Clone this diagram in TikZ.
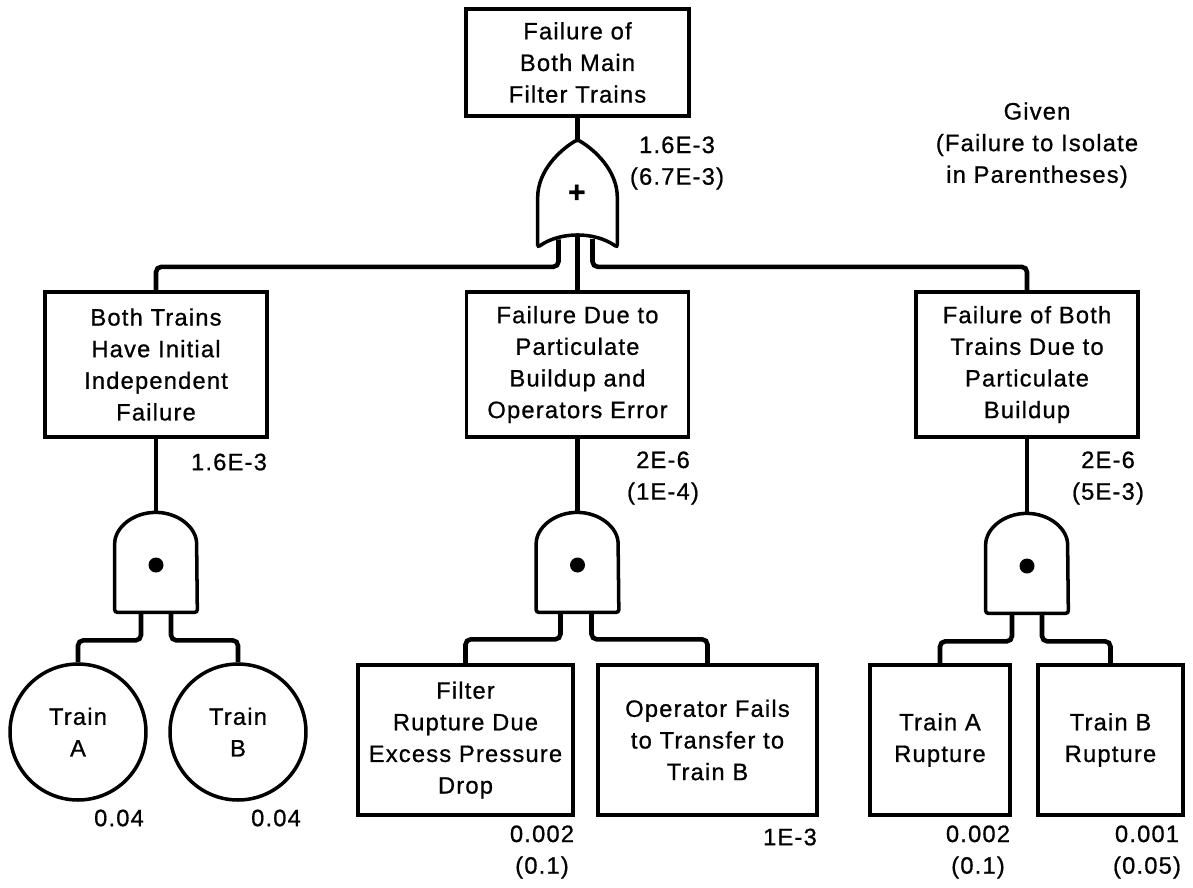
\documentclass[tikz,border=0pt]{standalone}
\usepackage{fontspec}
\setmainfont{Liberation Sans}[LetterSpace=5, FakeBold=0.8]
\usetikzlibrary{positioning}

\begin{document}
\begin{tikzpicture}[
    x=0.02cm, y=-0.02cm,
    font=\fontsize{13.5}{18}\selectfont,
    event/.style={draw, line width=2pt, minimum width=4.44cm, minimum height=2.9cm, align=center, inner sep=2pt},
    basic/.style={draw, circle, line width=2pt, minimum size=2.72cm, align=center, inner sep=0pt},
    gate/.style={minimum width=1.64cm, minimum height=2cm, inner sep=0pt},
    gateline/.style={line width=2pt, rounded corners=1.5pt},
    wire/.style={line width=2.6pt, rounded corners=3pt},
    prob/.style={align=center, inner sep=0pt}
]
    \useasboundingbox (0,0) rectangle (1193,887);

    \node[event, minimum width=4.46cm, minimum height=2.14cm] (top) at (577.5,62.5) {Failure of\\Both Main\\Filter Trains};
    \node[gate, minimum width=1.58cm, minimum height=2.14cm] (org) at (577.5,193.5) {\fontsize{17}{17}\selectfont\textbf{+}};

    \node[event] (b1) at (156,364.5)   {Both Trains\\Have Initial\\Independent\\Failure};
    \node[event] (b2) at (577.5,364.5) {Failure Due to\\Particulate\\Buildup and\\Operators Error};
    \node[event] (b3) at (1027,364.5)  {Failure of Both\\Trains Due to\\Particulate\\Buildup};

    \node[gate] (g1) at (156,562)   {};
    \node[gate] (g2) at (577.5,562) {};
    \node[gate] (g3) at (1027,563)  {};

    \node[basic] (ta) at (78,732)  {Train\\A};
    \node[basic] (tb) at (238,732) {Train\\B};
    \node[event, minimum width=4.3cm, minimum height=3cm]  (f1) at (465.5,740)  {Filter\\Rupture Due\\Excess Pressure\\Drop};
    \node[event, minimum width=4.38cm, minimum height=3cm] (f2) at (707.5,740)  {Operator Fails\\to Transfer to\\Train B};
    \node[event, minimum width=2.8cm, minimum height=3cm]  (r1) at (940,740)    {Train A\\Rupture};
    \node[event, minimum width=2.9cm, minimum height=3cm]  (r2) at (1110.5,740) {Train B\\Rupture};

    \node[prob] (pOr) at (677,163)  {1.6E-3\\(6.7E-3)};
    \node[prob] (pB1) at (229,462)  {1.6E-3};
    \node[prob] (pB2) at (663,478)  {2E-6\\(1E-4)};
    \node[prob] (pB3) at (1108,478) {2E-6\\(5E-3)};
    \node[prob] (pTa) at (119,818)  {0.04};
    \node[prob] (pTb) at (276,818)  {0.04};
    \node[prob] (pF1) at (542,852)  {0.002\\(0.1)};
    \node[prob] (pF2) at (790,837)  {1E-3};
    \node[prob] (pR1) at (978,852)  {0.002\\(0.1)};
    \node[prob] (pR2) at (1147,852) {0.001\\(0.05)};
    \node[prob] (given) at (1037,145) {Given\\(Failure to Isolate\\in Parentheses)};

    % gate outlines
    \draw[gateline] (org.south west) -- ([yshift=0.94cm]org.south west)
        .. controls +(0,0.6cm) and +(-0.34cm,-0.2cm) .. (org.north)
        .. controls +(0.34cm,-0.2cm) and +(0,0.6cm) .. ([yshift=0.94cm]org.south east)
        -- (org.south east) .. controls +(-0.45cm,0.32cm) and +(0.45cm,0.32cm) .. cycle;
    \foreach \g in {g1,g2,g3}{
        \draw[gateline] (\g.south west) -- ([yshift=1.32cm]\g.south west)
            arc[start angle=180, end angle=0, x radius=0.82cm, y radius=0.68cm] -- (\g.south east) -- cycle;
        \fill ([yshift=-0.06cm]\g.center) circle[radius=0.15cm];
    }

    \draw[wire] (top.south) -- (org.north);
    \draw[wire] ([xshift=-0.38cm,yshift=0.16cm]org.south) -- ++(0,-0.55cm) -| (b1.north);
    \draw[wire] ([yshift=0.22cm]org.south) -- (b2.north);
    \draw[wire] ([xshift=0.3cm,yshift=0.17cm]org.south) -- ++(0,-0.56cm) -| (b3.north);

    \draw[wire] (b1.south) -- (g1.north);
    \draw[wire] (b2.south) -- (g2.north);
    \draw[wire] (b3.south) -- (g3.north);

    \draw[wire] ([xshift=-0.3cm]g1.south) -- ++(0,-0.56cm) -| (ta.north);
    \draw[wire] ([xshift=0.3cm]g1.south)  -- ++(0,-0.56cm) -| (tb.north);
    \draw[wire] ([xshift=-0.34cm]g2.south) -- ++(0,-0.54cm) -| (f1.north);
    \draw[wire] ([xshift=0.28cm]g2.south)  -- ++(0,-0.54cm) -| (f2.north);
    \draw[wire] ([xshift=-0.3cm]g3.south) -- ++(0,-0.56cm) -| (r1.north);
    \draw[wire] ([xshift=0.3cm]g3.south)  -- ++(0,-0.56cm) -| (r2.north);
\end{tikzpicture}
\end{document}
